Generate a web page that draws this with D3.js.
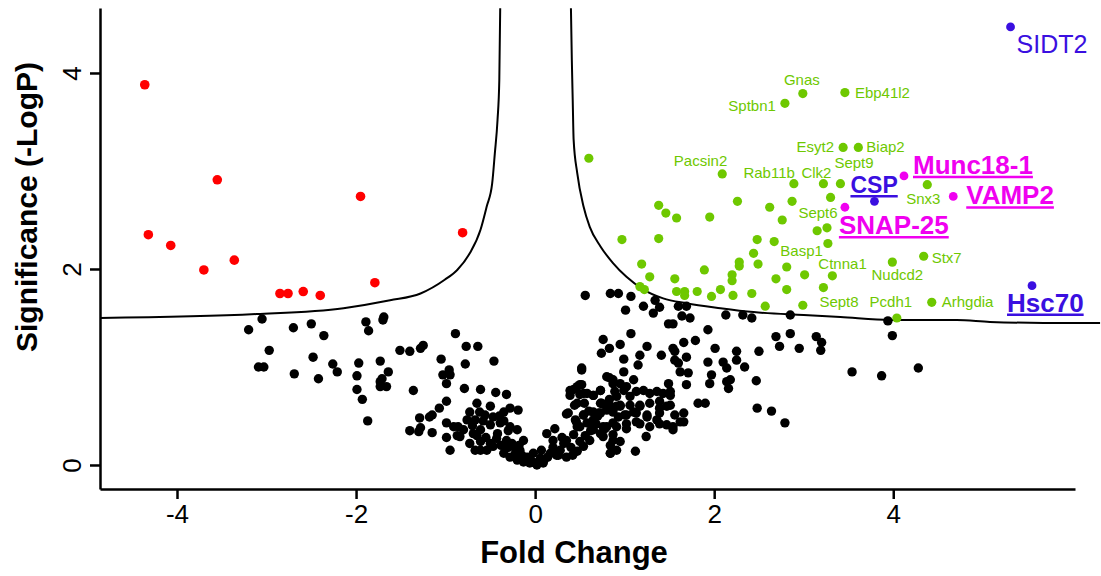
<!DOCTYPE html>
<html>
<head>
<meta charset="utf-8">
<script src="https://cdn.jsdelivr.net/npm/d3@7"></script>
<style>
  body { margin: 0; background: #fff; }
  svg text { font-family: "Liberation Sans", Arial, Helvetica, sans-serif; }
</style>
</head>
<body>
<div id="chart"></div>
<script>
// volcano plot: fold change vs significance

// not significant proteins [fold change, -logP]
const blackPts = [
  [-3.05,1.49],[-3.20,1.38],[-2.70,1.40],[-2.50,1.44],[-2.36,1.32],[-1.89,1.46],[-1.86,1.37],[-1.70,1.48],[-1.69,1.51],
  [-2.97,1.17],[-3.09,1.00],[-3.03,1.00],[-2.69,0.93],[-2.48,1.10],[-2.42,0.88],[-2.26,1.03],[-2.21,0.95],[-1.97,1.04],
  [-1.99,0.91],[-1.99,0.77],[-1.93,0.67],[-1.87,0.45],[-1.73,1.06],[-1.64,0.95],[-1.73,0.85],[-1.71,0.88],[-1.73,0.80],
  [-1.66,0.80],[-1.51,1.17],[-1.40,1.16],[-1.28,1.19],[-1.25,1.22],[-1.36,0.76],[-1.05,1.08],[-0.89,1.34],[-1.03,0.92],
  [-0.96,0.97],[-0.99,0.83],[-0.95,0.92],[-0.99,0.65],[-1.07,0.58],[-1.29,0.48],[-1.18,0.49],[-1.15,0.51],[-1.40,0.35],
  [-1.30,0.34],[-1.28,0.38],[-1.15,0.33],[-0.99,0.43],[-0.91,0.39],[-0.86,0.39],[-0.99,0.28],[-0.87,0.30],[-0.95,0.15],
  [-0.77,1.21],[-0.64,1.21],[-0.78,1.03],[-0.46,1.06],[-0.84,0.29],
  // dense middle
  [-0.79,0.78],[-0.61,0.77],[-0.44,0.74],[-0.32,0.72],[-0.65,0.63],[-0.73,0.54],[-0.76,0.46],[-0.67,0.46],[-0.56,0.51],
  [-0.47,0.49],[-0.35,0.54],[-0.28,0.58],[-0.19,0.56],[-0.80,0.36],[-0.69,0.32],[-0.61,0.36],[-0.50,0.41],[-0.39,0.43],
  [-0.28,0.39],[-0.20,0.36],[-0.13,0.25],[-0.73,0.22],[-0.61,0.24],[-0.50,0.22],[-0.43,0.27],[-0.32,0.25],[-0.24,0.19],
  [-0.17,0.15],[-0.35,0.12],[-0.28,0.08],[-0.20,0.05],[-0.13,0.03],[-0.06,0.02],[0.02,0.00],[0.09,0.02],[0.07,0.15],
  [0.13,0.32],[0.22,0.37],[0.20,0.25],[0.28,0.15],[0.32,0.22],[0.35,0.25],[0.43,0.31],[0.47,0.39],[0.45,0.46],
  [0.54,0.51],[0.47,0.63],[0.37,0.53],[0.39,0.76],[0.47,0.80],[0.52,0.82],[0.58,0.73],[0.65,0.71],[0.73,0.76],
  [0.80,0.90],[0.52,0.97],[0.87,0.83],[0.91,0.70],[0.73,0.63],[0.80,0.56],[0.71,0.53],[0.65,0.46],[0.58,0.43],
  [0.65,0.36],[0.73,0.32],[0.61,0.25],[0.76,0.29],[0.87,0.25],[0.91,0.15],[0.84,0.12],[0.80,0.39],[0.87,0.43],
  [0.93,0.49],[0.91,0.60],[0.17,0.12],[0.24,0.10],[0.35,0.08],[0.47,0.14],[0.54,0.19],[-0.09,0.08],[-0.02,0.12],
  [0.06,0.07],[-0.61,0.15],[-0.54,0.15],[-0.47,0.19],[-0.67,0.15],
  [-0.30,0.18],[-0.22,0.12],[-0.15,0.10],[-0.10,0.06],[-0.04,0.04],[0.00,0.02],[0.04,0.03],[0.10,0.05],[0.14,0.08],
  [-0.18,0.20],[-0.26,0.22],[-0.38,0.20],[-0.42,0.32],[-0.55,0.28],[-0.65,0.30],[-0.70,0.40],[0.20,0.18],[0.26,0.10],
  [0.30,0.28],[0.40,0.18],[0.42,0.10],[0.50,0.24],[0.56,0.30],[0.62,0.35],[0.68,0.42],[0.60,0.55],[0.70,0.50],
  [0.76,0.62],[0.83,0.67],[0.55,0.63],[0.50,0.72],[-0.50,0.60],[-0.58,0.45],[-0.40,0.50],[-0.62,0.54],[-0.30,0.35],
  [-0.35,0.45],
  // right of centre
  [0.56,1.73],[0.84,1.75],[0.93,1.75],[1.07,1.72],[1.21,1.62],[1.34,1.68],[1.39,1.61],[1.32,1.55],[1.01,1.58],
  [1.60,1.62],[1.69,1.62],[1.64,1.52],[1.73,1.50],[1.49,1.44],[1.54,1.44],[2.13,1.53],[2.32,1.53],[2.42,1.50],
  [1.93,1.38],[1.07,1.34],[0.76,1.28],[0.95,1.23],[0.83,1.19],[0.74,1.14],[1.25,1.21],[1.17,1.12],[1.15,1.02],
  [0.99,1.08],[0.99,0.95],[1.41,1.12],[1.54,1.19],[1.56,1.16],[1.66,1.25],[1.79,1.27],[2.01,1.19],[1.56,1.07],
  [1.60,1.04],[1.69,1.10],[1.62,0.95],[1.71,0.94],[1.93,1.05],[2.10,1.05],[2.14,0.99],[2.25,1.16],[2.25,1.07],
  [2.34,1.00],[1.97,0.92],[1.95,0.83],[2.14,0.85],[2.18,0.87],[2.16,0.78],[1.69,0.82],[1.49,0.83],[1.51,0.75],
  [0.52,0.99],[2.47,0.86],[2.50,1.16],[1.82,0.63],[1.90,0.63],[2.48,0.58],[0.83,0.89],[0.43,0.77],[0.50,0.82],
  [0.39,0.71],[0.73,0.76],[0.65,0.71],[0.54,0.73],[0.87,0.87],[0.95,0.83],[1.02,0.80],[1.10,0.87],[0.89,0.75],
  [0.99,0.76],[1.06,0.70],[1.13,0.75],[1.21,0.76],[1.28,0.73],[1.36,0.75],[1.43,0.73],[1.51,0.71],[1.39,0.65],
  [1.28,0.63],[1.17,0.60],[1.06,0.61],[0.95,0.60],[0.84,0.60],[0.74,0.63],[0.73,0.53],[0.65,0.54],[0.44,0.61],
  [0.35,0.52],[0.54,0.51],[0.87,0.54],[1.02,0.51],[1.13,0.53],[1.25,0.49],[1.39,0.53],[1.47,0.60],[1.56,0.51],
  [1.66,0.53],[1.66,0.44],[1.54,0.39],[1.39,0.42],[1.28,0.39],[1.17,0.42],[1.02,0.42],[0.91,0.39],[0.76,0.39],
  [0.65,0.42],[0.50,0.39],[0.46,0.44],
  [2.85,1.53],[2.85,1.34],[2.69,1.31],[2.73,1.21],[2.95,1.19],[3.14,1.31],[3.20,1.25],[3.19,1.17],[2.64,0.55],
  [2.79,0.43],[3.54,0.95],[3.87,0.91],[4.28,0.99],[3.94,1.47],[3.99,1.32],
  [1.54,0.36],[1.24,0.29],[1.12,0.14],[0.84,0.12],[1.62,0.44],[1.47,0.41],[0.78,0.37],[0.87,0.31],[0.95,0.24],
  [0.84,0.20],[1.02,0.37],[1.13,0.44],[1.25,0.51],[1.39,0.58],[1.51,0.61],[1.17,0.61],[0.95,0.61],[0.84,0.58],
  [1.10,0.54],[1.36,0.46],[1.00,0.51]
];

// down regulated
const redPts = [
  [-4.36,3.88],[-3.55,2.91],[-1.95,2.74],[-4.32,2.35],[-4.07,2.24],[-3.70,1.99],[-3.36,2.09],
  [-0.81,2.37],[-1.79,1.86],[-2.85,1.75],[-2.76,1.75],[-2.59,1.77],[-2.40,1.73]
];

// up regulated, unlabelled
const greenPts = [
  [0.60,3.13],[2.26,2.69],[2.62,2.63],[2.87,2.69],[2.76,2.50],[1.38,2.65],[1.46,2.57],[1.58,2.52],[1.95,2.53],
  [3.15,2.39],[3.26,2.42],[0.97,2.30],[1.38,2.31],[2.48,2.30],[2.67,2.28],[2.44,2.16],[1.19,2.05],[2.28,2.07],
  [2.28,2.03],[2.49,2.05],[1.89,1.99],[2.81,2.02],[1.28,1.92],[1.56,1.90],[2.20,1.94],[2.20,1.88],[2.69,1.90],
  [3.01,1.94],[1.17,1.82],[1.22,1.79],[1.58,1.77],[1.67,1.77],[1.67,1.73],[1.81,1.77],[2.07,1.79],[1.97,1.72],
  [2.21,1.73],[2.42,1.75],[2.81,1.79],[2.57,1.62],[2.99,1.63]
];

// up regulated, labelled
const greenNames = ['Gnas','Sptbn1','Ebp41l2','Esyt2','Biap2','Pacsin2','Rab11b','Clk2','Sept9','Snx3',
  'Sept6','Basp1','Ctnna1','Nudcd2','Stx7','Sept8','Pcdh1','Arhgdia'];
const greenFC  = [2.99,2.79,3.46,3.44,3.61,2.09,2.89,3.22,3.41,4.38,3.30,3.27,3.32,3.99,4.34,3.22,4.04,4.43];
const greenSig = [3.79,3.69,3.80,3.24,3.24,2.97,2.87,2.87,2.87,2.86,2.73,2.26,1.93,2.07,2.13,1.81,1.50,1.66];

// SNARE proteins (magenta) and chaperones (blue)
const snareNames = ['Munc18-1','VAMP2','SNAP-25'];
const snareFC  = [4.12,4.67,3.46];
const snareSig = [2.95,2.74,2.63];
const chapNames = ['CSP','Hsc70','SIDT2'];
const chapFC  = [3.79,5.55,5.31];
const chapSig = [2.69,1.83,4.47];

// significance threshold curves
const leftCurveFC  = [-4.86,-3.11,-2.14,-1.62,-1.28,-1.01,-0.87,-0.73,-0.61,-0.54,-0.48,-0.45,-0.42,-0.40,-0.39];
const leftCurveSig = [1.50,1.54,1.60,1.68,1.75,1.89,1.99,2.16,2.40,2.64,2.87,3.18,3.52,3.93,4.66];
const rightCurveFC  = [0.40,0.41,0.42,0.43,0.47,0.54,0.61,0.73,0.87,1.02,1.21,1.43,1.69,2.07,2.44,3.00,3.41,3.97,4.71,5.08,5.68,6.31];
const rightCurveSig = [4.66,4.13,3.72,3.32,2.98,2.64,2.43,2.23,2.06,1.92,1.79,1.70,1.65,1.60,1.56,1.53,1.51,1.48,1.48,1.46,1.45,1.45];

const xTicks = [-4,-2,0,2,4];
const yTicks = [0,2,4];

//sizes
const width = 1101;
const height = 576;
const margin = { top: 8, right: 26, bottom: 87, left: 100 };

const green = '#6ec800';
const magenta = '#f000f0';
const blue = '#3a0fe0';

const svg = d3.select('#chart')
  .append('svg')
  .attr('width', width)
  .attr('height', height);

const x = d3.scaleLinear()
  .domain([-4.86, 6.03])
  .range([margin.left, width - margin.right]);

const y = d3.scaleLinear()
  .domain([-0.245, 4.663])
  .range([height - margin.bottom, margin.top]);

// axes
const xAxis = svg.append('g')
  .attr('transform', `translate(0,${height - margin.bottom})`)
  .call(d3.axisBottom(x).tickValues(xTicks).tickSize(10).tickSizeOuter(0).tickPadding(6)
    .tickFormat(d => d < 0 ? '-' + Math.abs(d) : d));
xAxis.selectAll('text').attr('font-size', 26).attr('fill', '#000');

const yAxis = svg.append('g')
  .attr('transform', `translate(${margin.left},0)`)
  .call(d3.axisLeft(y).tickValues(yTicks).tickSize(10).tickSizeOuter(0).tickFormat(''));
yAxis.selectAll('.tick').append('text')
  .attr('transform', 'translate(-19,0) rotate(-90)')
  .attr('text-anchor', 'middle')
  .attr('fill', '#000')
  .attr('font-size', 26)
  .text(d => d);

svg.selectAll('.domain, .tick line').attr('stroke', '#000').attr('stroke-width', 2.5);

// titles
svg.append('text')
  .attr('x', 574).attr('y', 563)
  .attr('text-anchor', 'middle')
  .attr('font-size', 31).attr('font-weight', 'bold')
  .text('Fold Change');

svg.append('text')
  .attr('transform', 'translate(37,207) rotate(-90)')
  .attr('text-anchor', 'middle')
  .attr('font-size', 30).attr('font-weight', 'bold')
  .text('Significance (-LogP)');

// threshold lines
const curve = d3.line().x(d => x(d[0])).y(d => y(d[1])).curve(d3.curveMonotoneX);
[[leftCurveFC, leftCurveSig], [rightCurveFC, rightCurveSig]].forEach(([f, s]) => {
  svg.append('path')
    .datum(f.map((v, i) => [v, s[i]]))
    .attr('fill', 'none')
    .attr('stroke', '#000')
    .attr('stroke-width', 2)
    .attr('d', curve);
});

// dots
function dots(data, color, r) {
  svg.append('g')
    .attr('fill', color)
    .selectAll('circle')
    .data(data)
    .join('circle')
    .attr('cx', d => x(d[0]))
    .attr('cy', d => y(d[1]))
    .attr('r', r);
}
dots(blackPts, '#000', 4.7);
dots(redPts, '#ff0000', 4.8);
dots(greenPts, green, 4.6);
dots(greenFC.map((v, i) => [v, greenSig[i]]), green, 4.6);
dots(snareFC.map((v, i) => [v, snareSig[i]]), magenta, 4.4);
dots(chapFC.map((v, i) => [v, chapSig[i]]), blue, 4.4);

// label placement: offset from the dot [dx, dy, anchor]
const greenLabelPos = {
  Gnas: [-1, -9, 'middle'], Sptbn1: [-9, 8, 'end'], Ebp41l2: [10, 5, 'start'], Esyt2: [-9, 5, 'end'],
  Biap2: [8, 5, 'start'], Pacsin2: [5, -8, 'end'], Rab11b: [1, -6, 'end'], Clk2: [8, -6, 'end'],
  Sept9: [-6, -16, 'start'], Snx3: [-4, 19, 'middle'], Sept6: [7, 21, 'end'], Basp1: [-5, 12, 'end'],
  Ctnna1: [-14, -7, 'start'], Nudcd2: [5, 18, 'middle'], Stx7: [8, 7, 'start'], Sept8: [-4, 19, 'start'],
  Pcdh1: [-6, -11, 'middle'], Arhgdia: [10, 5, 'start']
};
greenNames.forEach((n, i) => {
  const p = greenLabelPos[n];
  svg.append('text')
    .attr('x', x(greenFC[i]) + p[0])
    .attr('y', y(greenSig[i]) + p[1])
    .attr('text-anchor', p[2])
    .attr('font-size', 15)
    .attr('fill', green)
    .text(n);
});

const bigLabelPos = {
  'Munc18-1': [9, -2, 26, true], 'VAMP2': [13, 8, 26, true], 'SNAP-25': [-6, 27, 26, true],
  'CSP': [-24, -8, 23, true], 'Hsc70': [-25, 26, 26, true], 'SIDT2': [6, 26, 25, false]
};
function bigLabel(name, fc, sig, color) {
  const p = bigLabelPos[name];
  const t = svg.append('text')
    .attr('x', x(fc) + p[0])
    .attr('y', y(sig) + p[1])
    .attr('font-size', p[2])
    .attr('font-weight', p[3] ? 'bold' : 'normal')
    .attr('fill', color)
    .text(name);
  if (p[3]) {
    const b = t.node().getBBox();
    svg.append('line')
      .attr('x1', b.x).attr('x2', b.x + b.width)
      .attr('y1', y(sig) + p[1] + 3).attr('y2', y(sig) + p[1] + 3)
      .attr('stroke', color).attr('stroke-width', 2.5);
  }
}
snareNames.forEach((n, i) => bigLabel(n, snareFC[i], snareSig[i], magenta));
chapNames.forEach((n, i) => bigLabel(n, chapFC[i], chapSig[i], blue));
</script>
</body>
</html>
